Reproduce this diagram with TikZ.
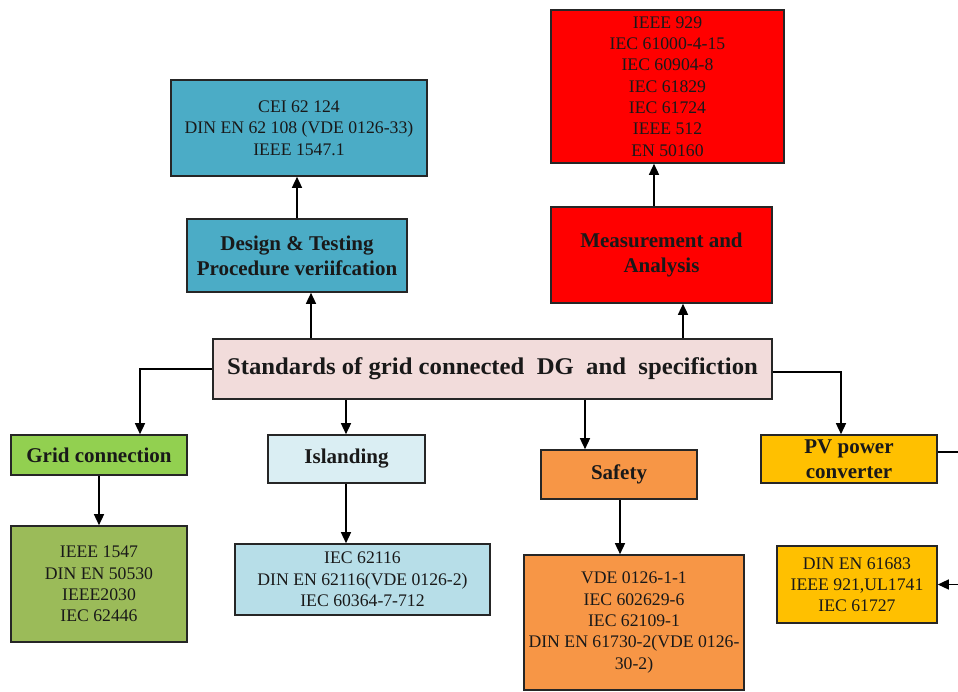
\documentclass[tikz,border=0pt]{standalone}
\usepackage{fontspec}
\setmainfont{Liberation Serif}
\usetikzlibrary{arrows.meta,calc}
\definecolor{cblue}{HTML}{4BACC6}
\definecolor{cred}{HTML}{FF0000}
\definecolor{cpink}{HTML}{F2DCDB}
\definecolor{cgreen}{HTML}{92D050}
\definecolor{colive}{HTML}{9BBB59}
\definecolor{clb}{HTML}{DAEEF3}
\definecolor{clb2}{HTML}{B7DEE8}
\definecolor{corange}{HTML}{F79646}
\definecolor{cgold}{HTML}{FFC000}
\tikzset{
  box/.style={draw=black!85, line width=1.6pt, inner sep=2pt, align=center, text=black!90},
  listtxt/.style={font=\fontsize{17.7}{21.3}\selectfont},
  headtxt/.style={font=\bfseries\fontsize{21}{25}\selectfont},
  arr/.style={line width=1.4pt, draw=black, -{Triangle[length=11pt,width=10pt]}},
  ln/.style={line width=1.4pt, draw=black}
}
\begin{document}
\begin{tikzpicture}[x=1pt,y=-1pt]
\useasboundingbox (0,0) rectangle (958,691);
\fill[white] (0,0) rectangle (958,691);
% top left
\node[box,listtxt,fill=cblue,minimum width=256,minimum height=96,anchor=center] (cei) at (299,128) {CEI 62 124\\DIN EN 62 108 (VDE 0126-33)\\IEEE 1547.1};
\node[box,headtxt,fill=cblue,minimum width=220,minimum height=73] (design) at (297,255.5) {Design \& Testing\\Procedure veriifcation};
% top right
\node[box,listtxt,fill=cred,minimum width=233,minimum height=153] (redlist) at (667.5,86.5) {IEEE 929\\IEC 61000-4-15\\IEC 60904-8\\IEC 61829\\IEC 61724\\IEEE 512\\EN 50160};
\node[box,headtxt,fill=cred,minimum width=221,minimum height=96] (meas) at (661.5,255) {Measurement and\\Analysis};
% center
\node[box,fill=cpink,minimum width=559,minimum height=60,font=\bfseries\fontsize{24}{28}\selectfont] (center) at (492.5,369) {\scalebox{1.03}[1]{Standards of grid connected\ \ DG\ \ and\ \ specifiction}};
% bottom
\node[box,headtxt,fill=cgreen,minimum width=176,minimum height=40] (grid) at (99,455) {Grid connection};
\node[box,listtxt,fill=colive,minimum width=176,minimum height=116] (gridlist) at (99,584) {IEEE 1547\\DIN EN 50530\\IEEE2030\\IEC 62446};
\node[box,headtxt,fill=clb,minimum width=157,minimum height=48] (island) at (346.5,459) {Islanding};
\node[box,listtxt,fill=clb2,minimum width=255,minimum height=71] (islandlist) at (362.5,579.5) {IEC 62116\\DIN EN 62116(VDE 0126-2)\\IEC 60364-7-712};
\node[box,headtxt,fill=corange,minimum width=156,minimum height=49] (safety) at (619,474.5) {Safety};
\node[box,listtxt,fill=corange,minimum width=220,minimum height=135] (safetylist) at (634,622.5) {VDE 0126-1-1\\IEC 602629-6\\IEC 62109-1\\DIN EN 61730-2(VDE 0126-\\30-2)};
\node[box,headtxt,fill=cgold,minimum width=176,minimum height=48,inner sep=0pt] (pv) at (849,459) {PV power\\converter};
\node[box,listtxt,fill=cgold,minimum width=160,minimum height=77] (pvlist) at (857,584.5) {DIN EN 61683\\IEEE 921,UL1741\\IEC 61727};
% connector x positions
\coordinate (xd) at (311,0);
\coordinate (xm) at (683,0);
\coordinate (xr) at (654,0);
\coordinate (xg) at (140,0);
\coordinate (xi) at (346,0);
\coordinate (xs) at (585,0);
\coordinate (xp) at (841,0);
\coordinate (xsl) at (620,0);
% connectors
\draw[arr] (design.north) -- (cei.south -| design.north);
\draw[arr] (center.north -| xd) -- (design.south -| xd);
\draw[arr] (center.north -| xm) -- (meas.south -| xm);
\draw[arr] (meas.north -| xr) -- (redlist.south -| xr);
\draw[arr] (center.west) -| (grid.north -| xg);
\draw[arr] (center.south -| xi) -- (island.north -| xi);
\draw[arr] (center.south -| xs) -- (safety.north -| xs);
\draw[arr] ([yshift=-3pt]center.east) -| (pv.north -| xp);
\draw[arr] (grid.south) -- (gridlist.north);
\draw[arr] (island.south -| xi) -- (islandlist.north -| xi);
\draw[arr] (safety.south -| xsl) -- (safetylist.north -| xsl);
\draw[arr] ([yshift=7pt]pv.east) -- ++(32,0) |- (pvlist.east);
\end{tikzpicture}
\end{document}
